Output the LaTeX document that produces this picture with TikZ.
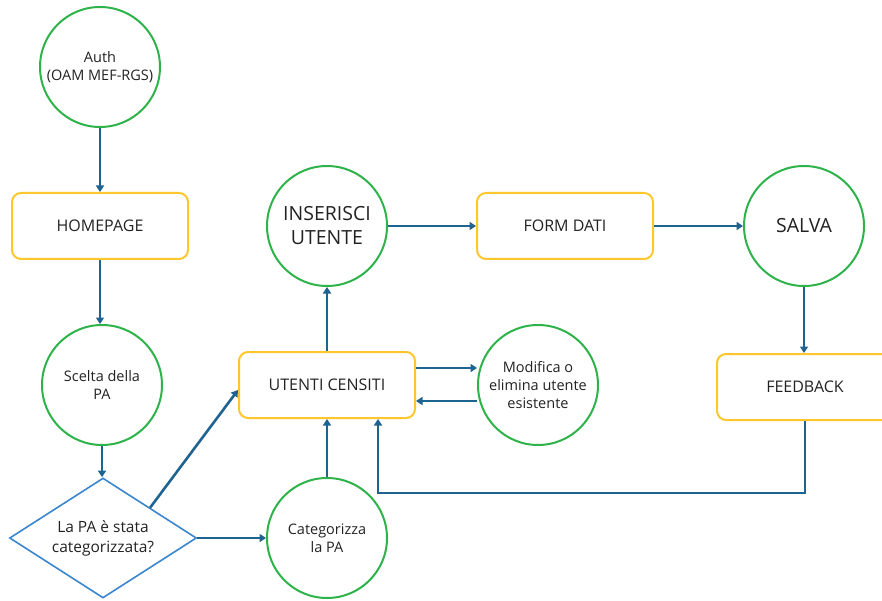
\documentclass[tikz,border=0pt]{standalone}
\usepackage{fontspec}
\setmainfont{Open Sans}
\usetikzlibrary{arrows.meta,shapes.geometric}
\definecolor{cgreen}{HTML}{2DB34A}
\definecolor{cyellow}{HTML}{FFC72C}
\definecolor{carrow}{HTML}{1F6391}
\definecolor{cdiamond}{HTML}{3A86CC}
\definecolor{ctext}{HTML}{222222}
\begin{document}
\begin{tikzpicture}[x=1pt,y=-1pt,
  circ/.style={circle, draw=cgreen, line width=2pt, minimum size=120pt, inner sep=0pt,
    align=center, text=ctext, font=\fontsize{14.5}{18}\selectfont},
  bigcirc/.style={circ, font=\fontsize{19.5}{24}\selectfont},
  box/.style={rectangle, rounded corners=9pt, draw=cyellow, line width=2pt,
    minimum width=176pt, minimum height=66pt, text=ctext, font=\fontsize{16}{20}\selectfont},
  dec/.style={diamond, aspect=1.55, draw=cdiamond, line width=1.6pt, minimum width=187pt,
    minimum height=120pt, inner sep=0pt, align=center, text=ctext,
    font=\fontsize{15.5}{20}\selectfont},
  arr/.style={-{Triangle[length=6.5pt,width=8pt]}, draw=carrow, line width=2.6pt}]
\useasboundingbox (0,0) rectangle (882,601);

\node[circ] (auth) at (100,67) {Auth\\(OAM MEF-RGS)};
\node[box] (home) at (100,226) {HOMEPAGE};
\node[circ] (scelta) at (102,385) {Scelta della\\PA};
\node[dec] (dia) at (103,538) {La PA è stata\\categorizzata?};
\node[circ] (cat) at (327,538) {Categorizza\\la PA};
\node[box] (utenti) at (327,385) {UTENTI CENSITI};
\node[bigcirc] (ins) at (327,226) {INSERISCI\\UTENTE};
\node[box] (form) at (565,226) {FORM DATI};
\node[circ] (mod) at (538,385) {Modifica o\\elimina utente\\esistente};
\node[bigcirc] (salva) at (804,226) {SALVA};
\node[box] (feed) at (805,387) {FEEDBACK};

\draw[arr] (auth.south) -- (home.north);
\draw[arr] (home.south) -- (home.south |- scelta.north);
\draw[arr] (scelta.south) -- (scelta.south |- dia.north);
\draw[arr] (dia.east) -- (cat.west);
\draw[arr] (dia.north east) -- ([yshift=-5pt]utenti.west);
\draw[arr] (cat.north) -- (utenti.south);
\draw[arr] (utenti.north) -- (ins.south);
\draw[arr] ([yshift=17pt]utenti.east) -- ([yshift=17pt]mod.west);
\draw[arr] ([yshift=-16pt]mod.west) -- ([yshift=-16pt]utenti.east);
\draw[arr] (ins.east) -- (form.west);
\draw[arr] (form.east) -- (salva.west);
\draw[arr] (salva.south) -- ([xshift=-1pt]feed.north);
\draw[arr] (feed.south) -- ++(0,72) -| ([xshift=51pt]utenti.south);
\end{tikzpicture}
\end{document}
